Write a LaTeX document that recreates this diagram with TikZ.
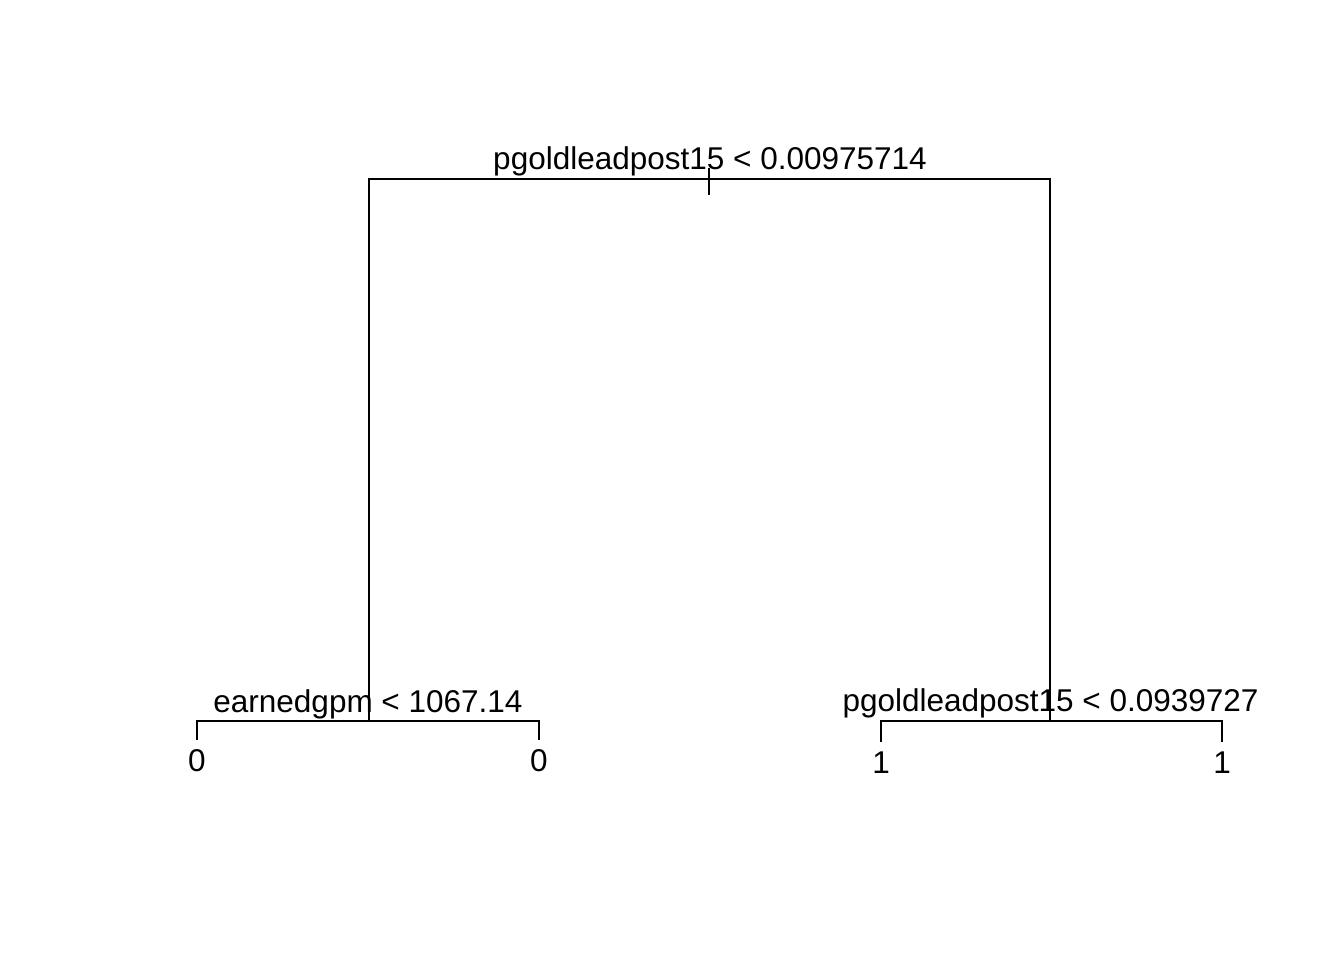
\documentclass[tikz,border=0pt]{standalone}
\usepackage{fontspec}
\setmainfont{Liberation Sans}
\begin{document}
\begin{tikzpicture}[x=1pt,y=-1pt,
  edge/.style={line width=1.6pt,black},
  lab/.style={anchor=base,inner sep=0pt,font=\fontsize{31.5}{38}\selectfont}]
\useasboundingbox (0,0) rectangle (1344,960);
% coordinates of the tree
\coordinate (rootL) at (369,179);
\coordinate (rootR) at (1050,179);
\coordinate (tickT) at (709,168);
\coordinate (tickB) at (709,195);
\coordinate (lsplit) at (369,721);
\coordinate (rsplit) at (1050,721);
\coordinate (llh) at (197,721);
\coordinate (lrh) at (539,721);
\coordinate (rlh) at (881,721);
\coordinate (rrh) at (1222,721);
\coordinate (lle) at (197,740);
\coordinate (lre) at (539,740);
\coordinate (rle) at (881,742);
\coordinate (rre) at (1222,742);
% edges
\draw[edge] (lsplit) -- (rootL) -- (rootR) -- (rsplit);
\draw[edge] (tickT) -- (tickB);
\draw[edge] (lle) -- (llh) -- (lrh) -- (lre);
\draw[edge] (rle) -- (rlh) -- (rrh) -- (rre);
% labels
\node[lab] (rootlab) at (710,170) {pgoldleadpost15 < 0.00975714};
\node[lab] (leftlab) at (368,712) {earnedgpm < 1067.14};
\node[lab] (rightlab) at (1050.5,711) {pgoldleadpost15 < 0.0939727};
\node[lab] (leaf1) at (197,771) {0};
\node[lab] (leaf2) at (539,771) {0};
\node[lab] (leaf3) at (881,773) {1};
\node[lab] (leaf4) at (1222,773) {1};
\end{tikzpicture}
\end{document}
